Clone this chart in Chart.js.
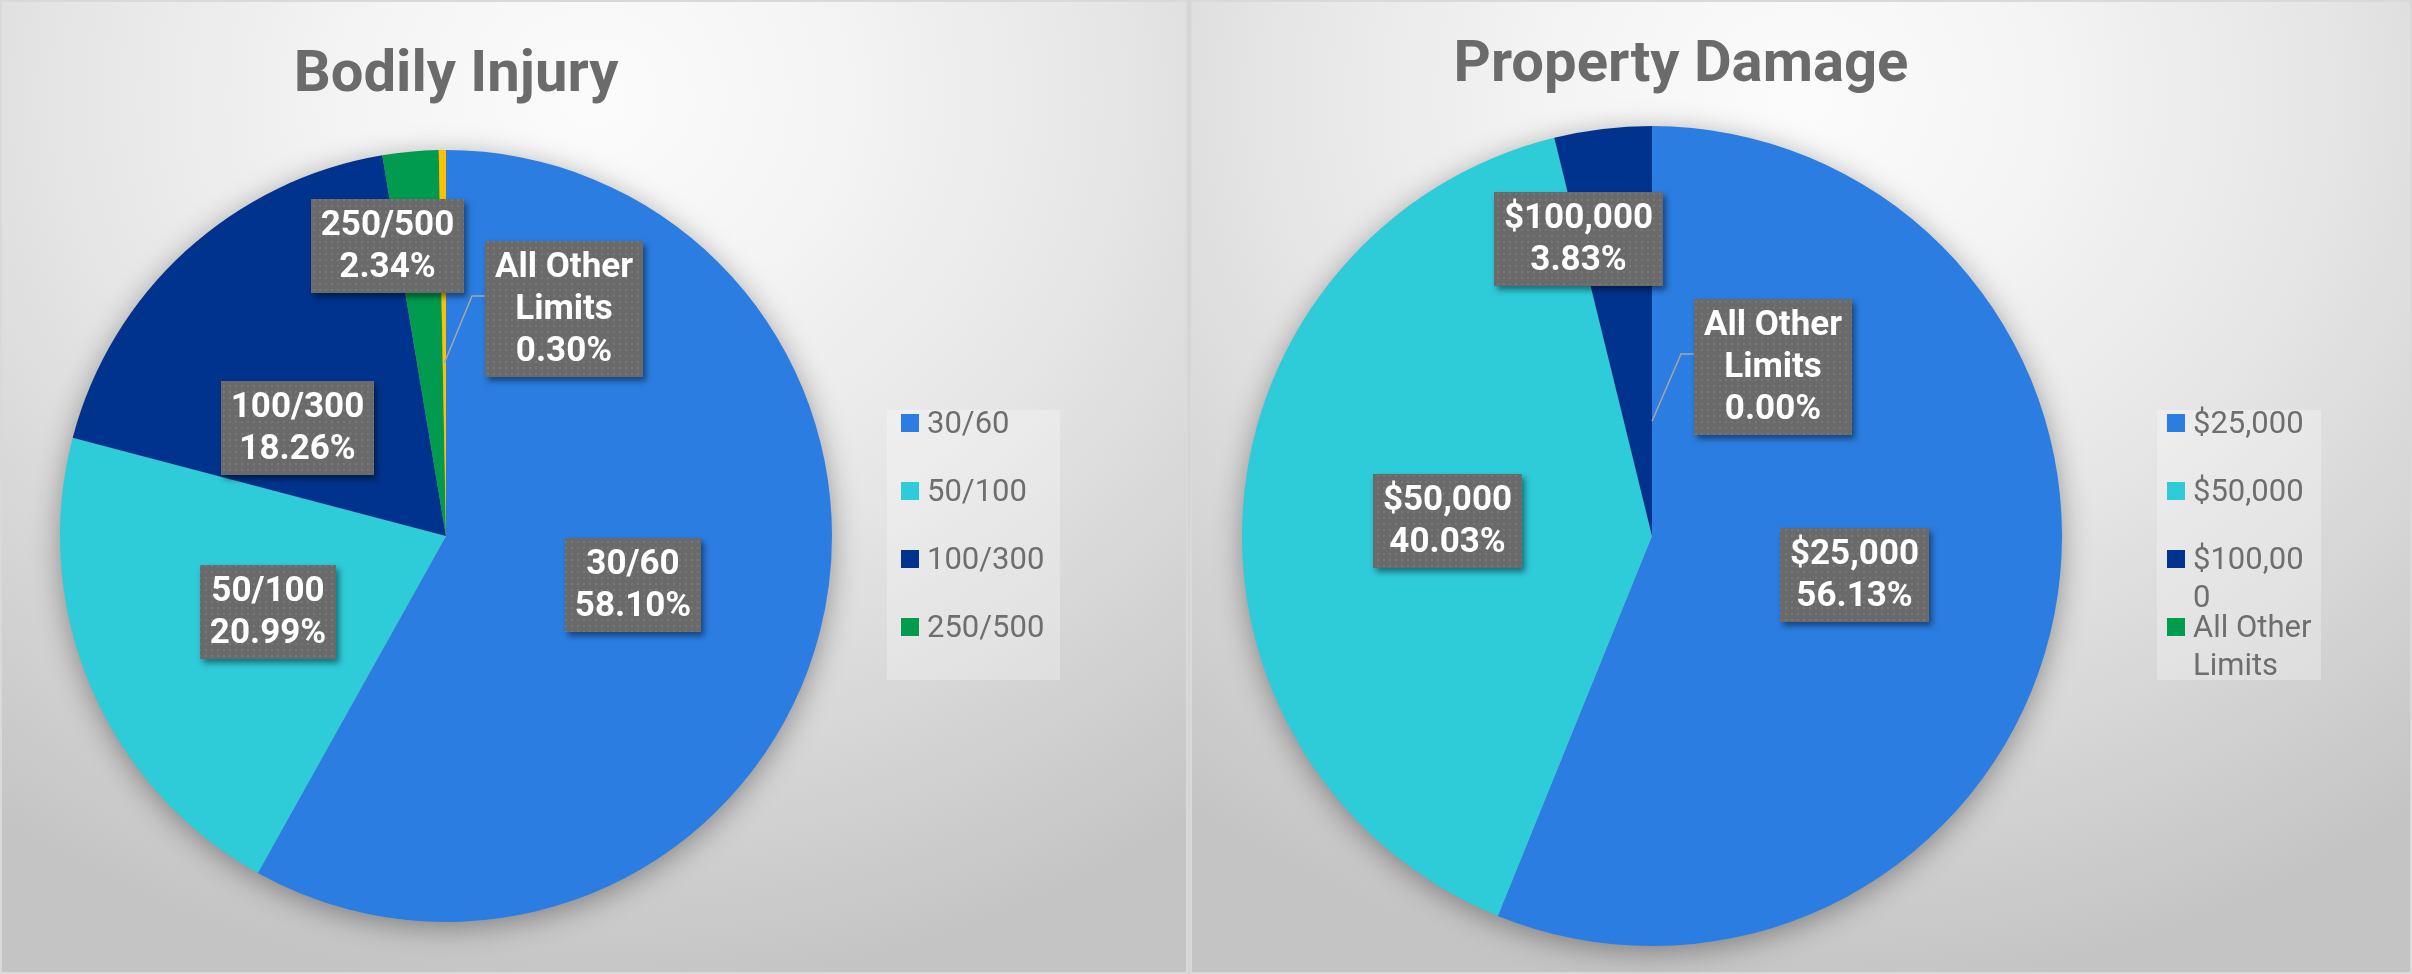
<!DOCTYPE html>
<html>
<head>
<meta charset="utf-8">
<script src="https://cdn.jsdelivr.net/npm/chart.js@4.4.1/dist/chart.umd.min.js"></script>
<style>
  html, body { margin: 0; padding: 0; background: #d4d4d4; }
  body { width: 2412px; height: 974px; position: relative; overflow: hidden; font-family: Roboto, 'Noto Sans', sans-serif; }
  .panel { position: absolute; top: 0; height: 974px; }
  .panel canvas { position: absolute; left: 0; top: 0; }
  .legend { position: absolute; background: rgba(255, 255, 255, 0.28); }
  .legend .item { position: absolute; left: 0; right: 0; font-size: 31px; line-height: 38px; color: #6e6e6e; }
  .legend .box { position: absolute; width: 18px; height: 18px; }
  .legend .txt { position: absolute; top: 0; overflow-wrap: anywhere; }
</style>
</head>
<body>
<div class="panel" style="left:0;width:1188px"><canvas id="bodilyChart" width="1188" height="974"></canvas><div class="legend" id="bodilyLegend"></div></div>
<div class="panel" style="left:1190px;width:1222px"><canvas id="propertyChart" width="1222" height="974"></canvas><div class="legend" id="propertyLegend"></div></div>
<script>
// Bodily Injury limits (share of policies, %)
var biLabels = ['30/60', '50/100', '100/300', '250/500', 'All Other Limits']
var biValues = [58.10, 20.99, 18.26, 2.34, 0.30]
var biColors = ['#2b7de1', '#2ecbd9', '#00338d', '#009b4e', '#ffc000']

// Property Damage limits (share of policies, %)
var pdLabels = ['$25,000', '$50,000', '$100,000', 'All Other Limits']
var pdValues = [56.13, 40.03, 3.83, 0.00]
var pdColors = ['#2b7de1', '#2ecbd9', '#00338d', '#009b4e']

var panels = [
  {
    canvas: 'bodilyChart',
    legendEl: 'bodilyLegend',
    title: 'Bodily Injury',
    titleX: 456,
    titleY: 91,
    labels: biLabels,
    values: biValues,
    colors: biColors,
    padding: { left: 60, right: 356, top: 150, bottom: 52 },
    // [fraction of radius, angle shift in degrees] for each data label
    labelPos: [[0.50, 0], [0.50, 0], [0.477, -11.6], [0.767, -6.2], [0.663, 28]],
    leader: { index: 4, r: 0.448 },
    legend: { left: 887, top: 410, width: 173, height: 270, count: 4, boxLeft: 14, textLeft: 40, textWidth: 130 }
  },
  {
    canvas: 'propertyChart',
    legendEl: 'propertyLegend',
    title: 'Property Damage',
    titleX: 491,
    titleY: 81,
    labels: pdLabels,
    values: pdValues,
    colors: pdColors,
    padding: { left: 52, right: 350, top: 126, bottom: 28 },
    labelPos: [[0.502, 0], [0.50, 0], [0.745, -7], [0.508, 35.6]],
    leader: { index: 3, r: 0.28 },
    legend: { left: 967, top: 410, width: 164, height: 270, count: 4, boxLeft: 10, textLeft: 36, textWidth: 124 }
  }
]

// small dotted texture used on the data label boxes
function makeDots (ctx) {
  var c = document.createElement('canvas')
  c.width = 6
  c.height = 6
  var g = c.getContext('2d')
  g.fillStyle = 'rgba(255,255,255,0.09)'
  g.fillRect(1, 1, 2, 2)
  return ctx.createPattern(c, 'repeat')
}

function splitLabel (ctx, text) {
  if (ctx.measureText(text).width < 170 || text.indexOf(' ') < 0) return [text]
  var i = text.lastIndexOf(' ')
  return [text.slice(0, i), text.slice(i + 1)]
}

var backgroundPlugin = {
  id: 'panelBackground',
  beforeDraw: function (chart) {
    var ctx = chart.ctx
    var w = chart.width
    var h = chart.height
    ctx.save()
    ctx.translate(w / 2, 97)
    ctx.scale(1.12, 1)
    var grad = ctx.createRadialGradient(0, 0, 0, 0, 0, 900)
    grad.addColorStop(0, '#fbfbfb')
    grad.addColorStop(0.22, '#f5f5f5')
    grad.addColorStop(0.5, '#e7e7e7')
    grad.addColorStop(0.75, '#d6d6d6')
    grad.addColorStop(1, '#c4c4c4')
    ctx.fillStyle = grad
    ctx.fillRect(-w, -200, w * 2, h + 400)
    ctx.restore()
    ctx.save()
    ctx.strokeStyle = '#d9d9d9'
    ctx.lineWidth = 2
    ctx.strokeRect(1, 1, w - 2, h - 2)
    ctx.restore()
  },
  beforeDatasetsDraw: function (chart) {
    var arc = chart.getDatasetMeta(0).data[0]
    var p = arc.getProps(['x', 'y', 'outerRadius'], true)
    var ctx = chart.ctx
    ctx.save()
    ctx.shadowColor = 'rgba(0,0,0,0.38)'
    ctx.shadowBlur = 30
    ctx.shadowOffsetY = 6
    ctx.fillStyle = '#999'
    ctx.beginPath()
    ctx.arc(p.x, p.y, p.outerRadius - 1, 0, Math.PI * 2)
    ctx.fill()
    ctx.restore()
  }
}

var labelPlugin = {
  id: 'boxLabels',
  afterDatasetsDraw: function (chart) {
    var cfg = chart.options.plugins.boxLabels
    var ctx = chart.ctx
    var meta = chart.getDatasetMeta(0)
    var dots = makeDots(ctx)
    var values = chart.data.datasets[0].data

    // title
    ctx.save()
    ctx.font = 'bold 58px Roboto'
    ctx.fillStyle = '#6b6b6b'
    ctx.textAlign = 'center'
    ctx.textBaseline = 'alphabetic'
    ctx.fillText(cfg.title, cfg.titleX, cfg.titleY)
    ctx.restore()

    meta.data.forEach(function (arc, i) {
      var p = arc.getProps(['x', 'y', 'startAngle', 'endAngle', 'outerRadius'], true)
      var mid = (p.startAngle + p.endAngle) / 2
      var pos = cfg.labelPos[i]
      var ang = mid + pos[1] * Math.PI / 180
      var cx = p.x + Math.cos(ang) * pos[0] * p.outerRadius
      var cy = p.y + Math.sin(ang) * pos[0] * p.outerRadius

      ctx.save()
      ctx.font = 'bold 35px Roboto'
      var lines = splitLabel(ctx, chart.data.labels[i])
      lines.push(values[i].toFixed(2) + '%')
      var tw = 0
      lines.forEach(function (l) { tw = Math.max(tw, ctx.measureText(l).width) })
      var bw = Math.round(tw + 20)
      var bh = lines.length * 42 + 10
      var bx = Math.round(cx - bw / 2)
      var by = Math.round(cy - bh / 2)

      if (cfg.leader && cfg.leader.index === i) {
        var ex = p.x + Math.cos(mid) * cfg.leader.r * p.outerRadius
        var ey = p.y + Math.sin(mid) * cfg.leader.r * p.outerRadius
        ctx.strokeStyle = '#a6a6a6'
        ctx.lineWidth = 1.5
        ctx.beginPath()
        ctx.moveTo(bx, by + 55)
        ctx.lineTo(bx - 13, by + 55)
        ctx.lineTo(ex, ey)
        ctx.stroke()
      }

      ctx.save()
      ctx.shadowColor = 'rgba(0,0,0,0.45)'
      ctx.shadowBlur = 6
      ctx.shadowOffsetX = 3
      ctx.shadowOffsetY = 4
      ctx.fillStyle = '#6a6a6a'
      ctx.fillRect(bx, by, bw, bh)
      ctx.restore()
      ctx.fillStyle = dots
      ctx.fillRect(bx, by, bw, bh)

      ctx.fillStyle = '#ffffff'
      ctx.textAlign = 'center'
      ctx.textBaseline = 'middle'
      lines.forEach(function (l, k) {
        ctx.fillText(l, bx + bw / 2, by + 5 + 22 + k * 42)
      })
      ctx.restore()
    })
  }
}

function buildLegend (panel) {
  var lg = panel.legend
  var el = document.getElementById(panel.legendEl)
  el.style.left = lg.left + 'px'
  el.style.top = lg.top + 'px'
  el.style.width = lg.width + 'px'
  el.style.height = lg.height + 'px'
  var html = []
  for (var i = 0; i < lg.count; i++) {
    html.push(
      '<div class="item" style="top:' + (-6 + 68 * i) + 'px">' +
      '<span class="box" style="left:' + lg.boxLeft + 'px;top:10px;background:' + panel.colors[i] + '"></span>' +
      '<span class="txt" style="left:' + lg.textLeft + 'px;width:' + lg.textWidth + 'px">' + panel.labels[i] + '</span>' +
      '</div>')
  }
  el.innerHTML = html.join('')
}

window.onload = function () {
  panels.forEach(function (panel) {
    buildLegend(panel)
    /* eslint-disable no-new, no-undef */
    new Chart(document.getElementById(panel.canvas), {
      type: 'pie',
      data: {
        labels: panel.labels,
        datasets: [{
          data: panel.values,
          backgroundColor: panel.colors,
          borderWidth: 0,
          hoverOffset: 0
        }]
      },
      options: {
        responsive: false,
        animation: false,
        events: [],
        layout: { padding: panel.padding },
        plugins: {
          legend: { display: false },
          tooltip: { enabled: false },
          boxLabels: panel
        }
      },
      plugins: [backgroundPlugin, labelPlugin]
    })
  })
}
</script>
</body>
</html>
